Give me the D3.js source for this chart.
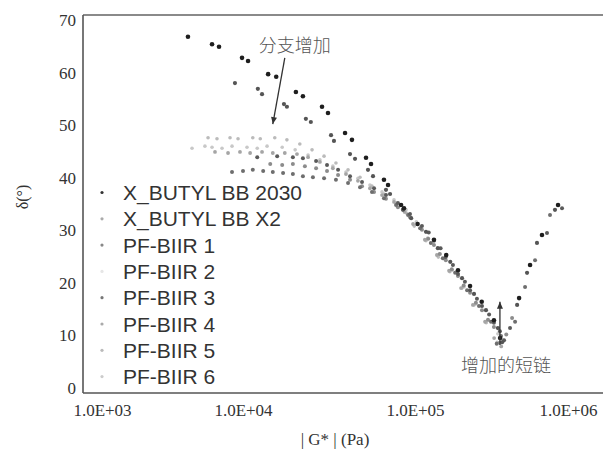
<!DOCTYPE html>
<html>
<head>
<meta charset="utf-8">
<script src="https://cdn.jsdelivr.net/npm/d3@7"></script>
<style>
  html, body { margin: 0; padding: 0; background: #fff; }
  svg { display: block; }
</style>
</head>
<body>
<svg id="chart" width="603" height="450"></svg>
<script>
// ---------------- data ----------------
const seriesNames = ["X_BUTYL BB 2030", "X_BUTYL BB X2", "PF-BIIR 1", "PF-BIIR 2", "PF-BIIR 3", "PF-BIIR 4", "PF-BIIR 5", "PF-BIIR 6"];

const xTickValues = [1e3, 1e4, 1e5, 1e6];
const xTickLabels = ["1.0E+03", "1.0E+04", "1.0E+05", "1.0E+06"];
const yTickValues = [0, 10, 20, 30, 40, 50, 60, 70];

// |G*| (Pa) and phase angle δ (°) per series
const g_bb2030 = [4.07e3, 6.03e3, 6.76e3, 9.84e3, 1.07e4, 1.40e4, 1.56e4, 2.03e4, 2.23e4, 2.88e4, 3.12e4, 3.92e4, 4.30e4, 5.19e4, 5.55e4, 6.60e4, 6.97e4, 8.30e4, 8.63e4, 1.04e5, 1.33e5, 1.60e5, 1.91e5, 2.29e5, 2.73e5, 3.28e5, 3.60e5, 4.79e5, 5.65e5, 6.76e5, 8.61e5];
const d_bb2030 = [66.8, 65.4, 64.9, 62.8, 62.2, 59.7, 59.2, 56.3, 55.5, 53.5, 52.3, 48.5, 47.2, 43.8, 42.6, 39.6, 38.6, 34.8, 34.2, 31.2, 28.2, 25.3, 22.4, 19.4, 16.4, 12.9, 9.5, 17.1, 23.4, 29.1, 34.8];

const g_bbx2 = [8.77e3, 1.22e4, 1.29e4, 1.73e4, 1.80e4, 2.32e4, 2.48e4, 3.25e4, 3.38e4, 4.19e4, 4.48e4, 5.33e4, 5.70e4, 6.78e4, 7.16e4, 8.51e4, 9.50e4, 1.18e5, 1.41e5, 1.70e5, 2.03e5, 2.43e5, 2.91e5, 3.48e5, 3.71e5, 4.65e5, 5.40e5, 6.27e5, 8.22e5];
const d_bbx2 = [58.0, 56.9, 55.9, 54.0, 53.5, 51.2, 50.6, 48.1, 47.0, 44.5, 43.6, 41.5, 40.3, 37.7, 36.9, 33.9, 32.3, 29.7, 26.6, 24.0, 20.9, 17.9, 14.8, 11.4, 8.7, 15.8, 21.9, 27.6, 33.9];

const g_pf1 = [8.36e3, 1.00e4, 1.14e4, 1.31e4, 1.49e4, 1.71e4, 1.95e4, 2.23e4, 2.55e4, 2.96e4, 3.47e4, 4.08e4, 4.79e4, 5.62e4, 6.60e4, 7.76e4, 9.11e4, 1.08e5, 1.27e5, 1.52e5, 1.83e5, 2.19e5, 2.62e5, 3.14e5, 3.65e5, 3.42e5, 4.51e5, 5.24e5, 6.09e5, 7.63e5];
const d_pf1 = [41.1, 41.3, 41.5, 41.3, 41.1, 40.9, 40.7, 40.3, 40.1, 39.9, 39.6, 39.0, 38.2, 37.3, 36.1, 34.8, 32.9, 30.4, 27.6, 24.7, 21.9, 18.6, 15.6, 12.6, 9.9, 8.4, 12.6, 19.2, 24.3, 32.9];

const g_pf2 = [4.35e3, 5.37e3, 6.03e3, 7.10e3, 8.36e3, 1.055e4, 1.21e4, 1.38e4, 1.69e4, 2.01e4, 2.39e4, 2.80e4, 3.33e4, 3.97e4, 4.66e4, 5.47e4, 6.43e4, 7.55e4, 8.87e4, 1.02e5, 1.21e5, 1.46e5, 1.75e5, 2.09e5, 2.50e5, 3.00e5, 3.48e5, 3.76e5];
const d_pf2 = [45.6, 46.0, 45.8, 45.6, 46.0, 45.8, 45.6, 46.0, 45.8, 45.3, 44.3, 43.4, 42.2, 41.1, 39.9, 38.6, 37.3, 35.8, 33.9, 31.6, 28.5, 25.5, 22.4, 19.2, 16.0, 12.9, 10.3, 9.1];

const g_pf3 = [1.21e4, 1.58e4, 1.95e4, 2.23e4, 2.66e4, 3.08e4, 3.57e4, 4.19e4, 4.92e4, 5.78e4, 6.78e4, 7.96e4, 9.35e4, 1.11e5, 1.23e5, 1.33e5, 1.47e5, 1.59e5, 1.77e5, 1.91e5, 2.12e5, 2.29e5, 2.54e5, 2.74e5, 3.05e5, 3.28e5, 3.59e5, 3.82e5, 4.18e5, 7.29e5, 9.14e5];
const d_pf3 = [43.9, 44.1, 43.9, 43.7, 43.2, 42.4, 41.5, 40.3, 39.2, 38.0, 36.7, 35.2, 33.1, 30.8, 29.6, 28.0, 26.6, 24.9, 23.4, 21.7, 20.2, 18.6, 17.0, 15.6, 14.0, 12.4, 10.8, 9.1, 11.4, 29.5, 34.2];

const g_pf4 = [1.44e4, 1.69e4, 1.95e4, 2.29e4, 2.66e4, 3.08e4, 3.57e4, 4.19e4, 4.92e4, 5.78e4, 6.78e4, 7.96e4, 9.35e4, 1.11e5, 1.22e5, 1.33e5, 1.45e5, 1.59e5, 1.74e5, 1.91e5, 2.08e5, 2.29e5, 2.50e5, 2.74e5, 3.00e5, 3.28e5, 3.59e5, 3.95e5, 4.31e5];
const d_pf4 = [42.6, 42.4, 42.6, 42.2, 41.8, 41.3, 40.5, 39.6, 38.4, 37.3, 36.0, 34.4, 32.5, 30.1, 28.4, 27.2, 25.5, 24.3, 22.6, 21.3, 19.5, 18.1, 16.2, 14.8, 13.0, 11.6, 8.6, 10.2, 13.3];

const g_pf5 = [6.33e3, 7.83e3, 9.52e3, 1.10e4, 1.29e4, 1.49e4, 1.75e4, 2.06e4, 2.39e4, 2.80e4, 3.33e4, 3.97e4, 4.66e4, 5.47e4, 6.43e4, 7.55e4, 8.70e4, 9.74e4, 1.16e5, 1.39e5, 1.67e5, 2.00e5, 2.39e5, 2.87e5, 3.29e5, 3.66e5];
const d_pf5 = [44.9, 44.7, 44.9, 44.7, 44.9, 44.7, 44.7, 44.5, 43.9, 43.0, 41.8, 40.7, 39.4, 38.0, 36.7, 35.4, 33.5, 31.2, 28.2, 25.3, 22.3, 19.0, 15.8, 12.6, 9.5, 7.9];

const g_pf6 = [5.65e3, 6.54e3, 8.09e3, 9.22e3, 1.14e4, 1.26e4, 1.53e4, 1.80e4, 2.14e4, 2.52e4, 2.96e4, 3.47e4, 4.08e4, 4.79e4, 5.62e4, 6.60e4, 7.76e4, 8.90e4, 9.90e4, 1.18e5, 1.42e5, 1.69e5, 2.03e5, 2.43e5, 2.92e5, 3.44e5];
const d_pf6 = [47.6, 47.4, 47.6, 47.4, 47.6, 47.4, 47.6, 47.2, 46.4, 45.3, 44.1, 42.8, 41.5, 40.1, 38.4, 36.9, 35.2, 33.3, 30.8, 28.0, 24.9, 22.1, 19.0, 15.8, 12.4, 8.7];

// annotations (data units)
const annoTexts = ["分支增加", "增加的短链"];
const annoTextG = [2.0e4, 3.93e5];
const annoTextD = [65.2, 4.2];
const arrowFromG = [1.75e4, 3.59e5];
const arrowFromD = [62.8, 8.2];
const arrowToG = [1.49e4, 3.59e5];
const arrowToD = [50.2, 16.4];

// ---------------- styles ----------------
const seriesG = [g_bb2030, g_bbx2, g_pf1, g_pf2, g_pf3, g_pf4, g_pf5, g_pf6];
const seriesD = [d_bb2030, d_bbx2, d_pf1, d_pf2, d_pf3, d_pf4, d_pf5, d_pf6];
const colors = ["#1e1e1e", "#555555", "#6e6e6e", "#c8c8c8", "#5a5a5a", "#8c8c8c", "#a5a5a5", "#bbbbbb"];
const radii = [2.3, 2.1, 2.0, 1.8, 2.0, 2.0, 1.9, 1.8];
const legendColors = ["#333", "#aaa", "#888", "#e6e6e6", "#777", "#aaa", "#bbb", "#ccc"];

// ---------------- chart ----------------
const svg = d3.select("#chart");
const pLeft = 83, pRight = 603, pTop = 15, pBottom = 393;

const x = d3.scaleLog().domain(xTickValues).range([102, 243, 415, 568]);
const y = d3.scaleLinear().domain([0, 70]).range([388, 20]);

// clip
svg.append("defs").append("clipPath").attr("id", "plotclip")
  .append("rect").attr("x", pLeft).attr("y", pTop).attr("width", pRight - pLeft).attr("height", pBottom - pTop);

// frame
svg.append("line").attr("x1", pLeft).attr("x2", pRight).attr("y1", pTop).attr("y2", pTop)
  .attr("stroke", "#8a8a8a").attr("stroke-width", 2);
svg.append("line").attr("x1", pLeft).attr("x2", pLeft).attr("y1", pTop).attr("y2", pBottom)
  .attr("stroke", "#555").attr("stroke-width", 1.6);
svg.append("line").attr("x1", pLeft).attr("x2", pRight).attr("y1", pBottom).attr("y2", pBottom)
  .attr("stroke", "#555").attr("stroke-width", 1.6);

// axes
const xAxis = svg.append("g").attr("transform", `translate(0,${pBottom})`)
  .call(d3.axisBottom(x).tickValues(xTickValues).tickSize(0).tickPadding(11)
    .tickFormat((d, i) => xTickLabels[i]));
xAxis.select(".domain").remove();
xAxis.selectAll("text").attr("font-family", "Liberation Serif, Times New Roman, serif")
  .attr("font-size", 17).attr("fill", "#333");

const yAxis = svg.append("g").attr("transform", `translate(${pLeft},0)`)
  .call(d3.axisLeft(y).tickValues(yTickValues).tickSize(0).tickPadding(7));
yAxis.select(".domain").remove();
yAxis.selectAll("text").attr("font-family", "Liberation Serif, Times New Roman, serif")
  .attr("font-size", 17).attr("fill", "#333");

// axis titles
svg.append("text").attr("x", 335).attr("y", 445).attr("text-anchor", "middle")
  .attr("font-family", "Liberation Serif, Times New Roman, serif").attr("font-size", 17).attr("fill", "#333")
  .text("| G* | (Pa)");
svg.append("text").attr("transform", "translate(28,197) rotate(-90)").attr("text-anchor", "middle")
  .attr("font-family", "Liberation Serif, Times New Roman, serif").attr("font-size", 16).attr("fill", "#333")
  .text("δ(°)");

// points (draw lightest first)
const plot = svg.append("g").attr("clip-path", "url(#plotclip)");
const order = [3, 7, 6, 5, 2, 4, 1, 0];
order.forEach(si => {
  const pts = seriesG[si].map((g, i) => ({ g, d: seriesD[si][i] }));
  plot.append("g").selectAll("circle").data(pts).join("circle")
    .attr("cx", p => x(p.g)).attr("cy", p => y(p.d))
    .attr("r", radii[si]).attr("fill", colors[si]);
});

// annotations
const annoFont = "Noto Sans CJK SC, Noto Sans, sans-serif";
annoTexts.forEach((t, i) => {
  svg.append("text").attr("x", x(annoTextG[i])).attr("y", y(annoTextD[i]))
    .attr("dy", "0.35em").attr("text-anchor", "middle")
    .attr("font-family", annoFont).attr("font-size", 18).attr("font-weight", 300)
    .attr("fill", "#555").text(t);
  const x1 = x(arrowFromG[i]), y1 = y(arrowFromD[i]);
  const x2 = x(arrowToG[i]), y2 = y(arrowToD[i]);
  svg.append("line").attr("x1", x1).attr("y1", y1).attr("x2", x2).attr("y2", y2)
    .attr("stroke", "#333").attr("stroke-width", 1.3);
  const ang = Math.atan2(y2 - y1, x2 - x1);
  const L = 7, W = 3;
  const bx = x2 - L * Math.cos(ang), by = y2 - L * Math.sin(ang);
  const px = -Math.sin(ang) * W, py = Math.cos(ang) * W;
  svg.append("path")
    .attr("d", `M${x2},${y2}L${bx + px},${by + py}L${bx - px},${by - py}Z`)
    .attr("fill", "#333");
});

// legend
const legend = svg.append("g");
seriesNames.forEach((name, i) => {
  const cy = 192.5 + i * 26.3;
  legend.append("circle").attr("cx", 102).attr("cy", cy).attr("r", 1.6).attr("fill", legendColors[i]);
  legend.append("text").attr("x", 123).attr("y", cy).attr("dy", "0.36em")
    .attr("font-family", "Liberation Sans, Arial, sans-serif").attr("font-size", 21)
    .attr("fill", "#333").text(name);
});
</script>
</body>
</html>
